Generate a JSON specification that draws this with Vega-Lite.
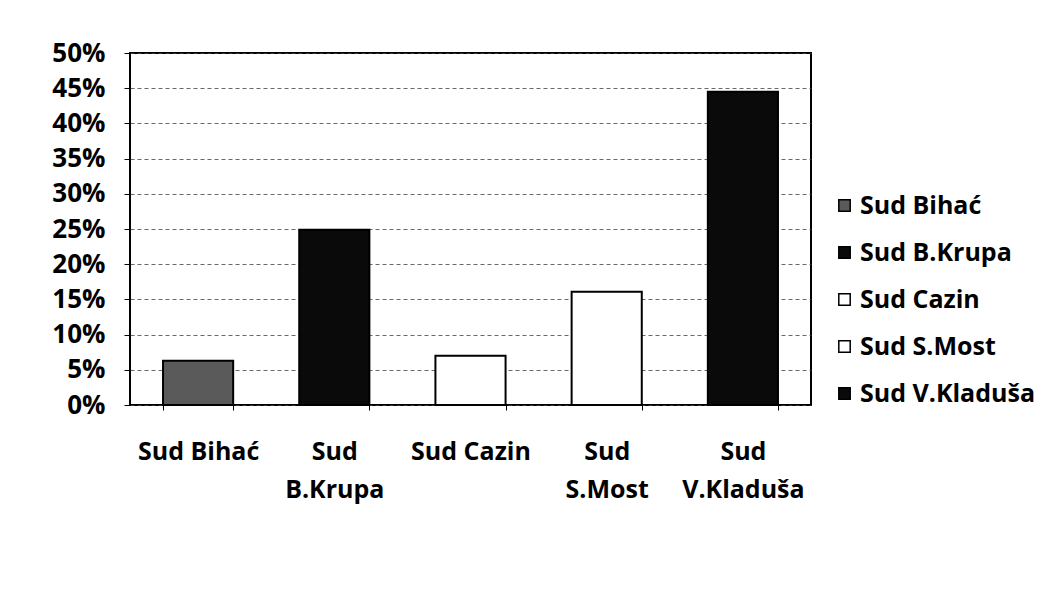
{
  "$schema": "https://vega.github.io/schema/vega-lite/v6.json",
  "width": 681,
  "height": 352,
  "autosize": {"type": "none"},
  "padding": {"left": 130, "top": 53, "right": 243, "bottom": 193},
  "background": "white",
  "data": {
    "values": [
      {"court": "Sud Bihać", "share": 0.063},
      {"court": "Sud B.Krupa", "share": 0.249},
      {"court": "Sud Cazin", "share": 0.070},
      {"court": "Sud S.Most", "share": 0.161},
      {"court": "Sud V.Kladuša", "share": 0.445}
    ]
  },
  "mark": {"type": "bar", "stroke": "black", "strokeWidth": 2},
  "encoding": {
    "x": {
      "field": "court",
      "type": "nominal",
      "sort": null,
      "scale": {"paddingInner": 0.485, "paddingOuter": 0.2425},
      "axis": {
        "title": null,
        "labelAngle": 0,
        "labelFont": "Open Sans",
        "labelFontWeight": "bold",
        "labelFontSize": 25,
        "labelColor": "black",
        "labelPadding": 29,
        "labelLineHeight": 38,
        "labelBaseline": "top",
        "labelExpr": "indexof(datum.label, 'Bihać') >= 0 || indexof(datum.label, 'Cazin') >= 0 ? datum.label : split(datum.label, ' ')",
        "domain": false,
        "ticks": true,
        "tickBand": "extent",
        "tickSize": 5,
        "tickColor": "black"
      }
    },
    "y": {
      "field": "share",
      "type": "quantitative",
      "scale": {"domain": [0, 0.5], "nice": false},
      "axis": {
        "title": null,
        "values": [0, 0.05, 0.1, 0.15, 0.2, 0.25, 0.3, 0.35, 0.4, 0.45, 0.5],
        "format": ".0%",
        "labelFont": "Open Sans",
        "labelFontWeight": "bold",
        "labelFontSize": 26,
        "labelColor": "black",
        "labelPadding": 19,
        "tickSize": 6,
        "tickColor": "black",
        "domain": false,
        "grid": true,
        "gridColor": "#444444",
        "gridDash": [4, 3],
        "gridOpacity": 0.8
      }
    },
    "fill": {
      "field": "court",
      "type": "nominal",
      "sort": null,
      "scale": {
        "domain": ["Sud Bihać", "Sud B.Krupa", "Sud Cazin", "Sud S.Most", "Sud V.Kladuša"],
        "range": ["#5a5a5a", "#0a0a0a", "#ffffff", "#ffffff", "#0a0a0a"]
      },
      "legend": {
        "title": null,
        "orient": "none",
        "legendX": 702,
        "legendY": 140,
        "symbolType": "square",
        "symbolSize": 130,
        "symbolStrokeColor": "black",
        "symbolStrokeWidth": 1.5,
        "labelFont": "Open Sans",
        "labelFontWeight": "bold",
        "labelFontSize": 25,
        "labelColor": "black",
        "labelOffset": 3,
        "rowPadding": 21,
        "labelLimit": 300
      }
    }
  },
  "config": {
    "view": {"stroke": "black", "strokeWidth": 2}
  }
}
